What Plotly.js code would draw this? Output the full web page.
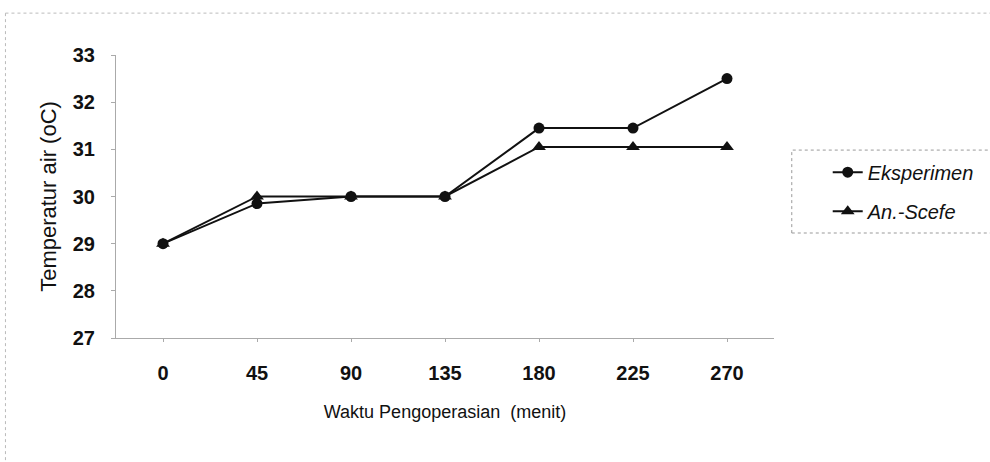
<!DOCTYPE html>
<html>
<head>
<meta charset="utf-8">
<script src="https://cdn.plot.ly/plotly-3.0.1.min.js"></script>
<style>html,body{margin:0;padding:0;background:#fff;}#chart{width:990px;height:462px;}</style>
</head>
<body>
<div id="chart"></div>
<script>
const categories = ["0", "45", "90", "135", "180", "225", "270"];
const eksperimen = [29.0, 29.85, 30.0, 30.0, 31.45, 31.45, 32.5];
const anScefe = [29.0, 30.0, 30.0, 30.0, 31.05, 31.05, 31.05];
const seriesNames = ["Eksperimen", "An.-Scefe"];
const yTicks = [27, 28, 29, 30, 31, 32, 33];

const traces = [
  {
    x: categories, y: eksperimen, name: seriesNames[0], type: "scatter", mode: "lines+markers",
    legendgroup: "a",
    line: {color: "#111", width: 2},
    marker: {symbol: "circle", size: 11, color: "#111"}
  },
  {
    x: categories, y: anScefe, name: seriesNames[1], type: "scatter", mode: "lines+markers",
    legendgroup: "b",
    line: {color: "#111", width: 2},
    marker: {symbol: "triangle-up", size: 12, color: "#111"}
  }
];

const FONT = "Liberation Sans, Arial, sans-serif";

const layout = {
  width: 990, height: 462,
  margin: {l: 116, r: 215, t: 55, b: 124},
  paper_bgcolor: "#fff", plot_bgcolor: "#fff",
  font: {family: FONT, color: "#111"},
  showlegend: true,
  legend: {
    x: 1.08, xanchor: "left", y: 0.655, yanchor: "top",
    bgcolor: "rgba(0,0,0,0)", borderwidth: 0,
    font: {size: 20, family: FONT, style: "italic", color: "#111"},
    tracegroupgap: 10
  },
  xaxis: {
    type: "category", range: [-0.5, 6.5],
    showline: true, linecolor: "#aaa", linewidth: 1,
    ticks: "outside", ticklen: 3, tickcolor: "#aaa",
    ticklabelstandoff: 14,
    tickfont: {size: 20, weight: "bold", family: FONT, color: "#111"},
    showgrid: false, zeroline: false,
    title: {text: "Waktu Pengoperasian  (menit)", font: {size: 18, family: FONT, color: "#111"}, standoff: 22}
  },
  yaxis: {
    range: [27, 33], tickvals: yTicks, ticktext: yTicks.map(String),
    showline: true, linecolor: "#aaa", linewidth: 1,
    ticks: "outside", ticklen: 4, tickcolor: "#aaa",
    ticklabelstandoff: 12,
    tickfont: {size: 20, weight: "bold", family: FONT, color: "#111"},
    showgrid: false, zeroline: false,
    title: {text: "Temperatur air (oC)", font: {size: 22, family: FONT, color: "#111"}, standoff: 10}
  },
  shapes: [
    {type: "line", xref: "paper", yref: "paper", x0: -0.168, x1: 1.33, y0: 1.148, y1: 1.148,
     line: {color: "#bbb", width: 1, dash: "dot"}},
    {type: "line", xref: "paper", yref: "paper", x0: -0.168, x1: -0.168, y0: 1.148, y1: -0.44,
     line: {color: "#bbb", width: 1, dash: "dot"}},
    {type: "rect", xref: "paper", yref: "paper", x0: 1.027, x1: 1.35, y0: 0.371, y1: 0.664,
     line: {color: "#999", width: 1, dash: "dot"}}
  ]
};

Plotly.newPlot("chart", traces, layout, {displayModeBar: false, staticPlot: true});
</script>
</body>
</html>
